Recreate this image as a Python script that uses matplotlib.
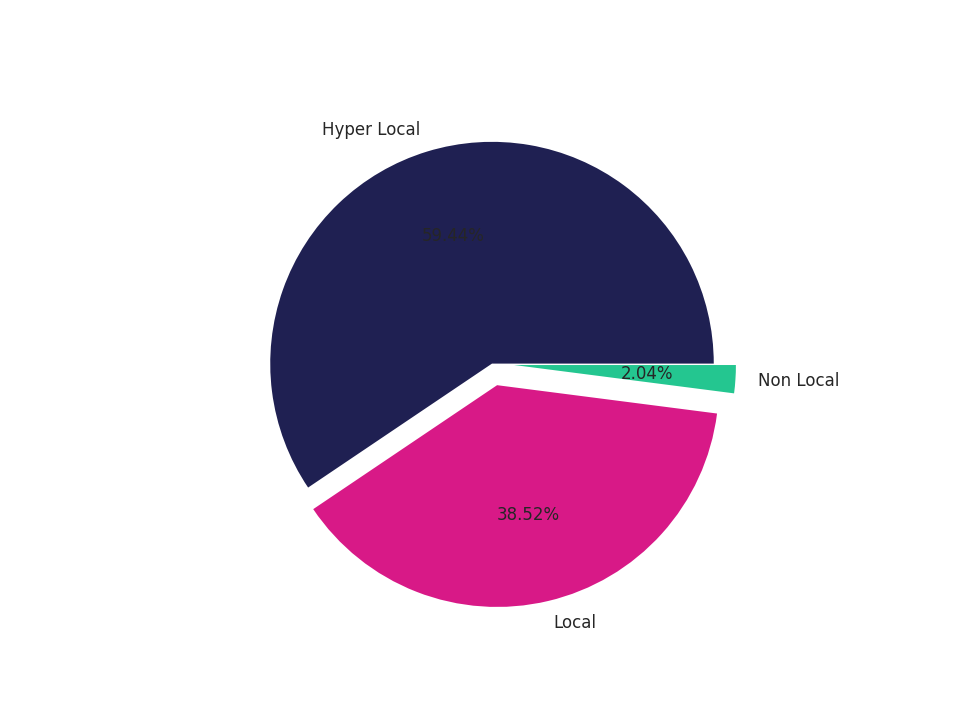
import matplotlib
matplotlib.use("Agg")
import matplotlib.pyplot as plt

labels = ["Hyper Local", "Local", "Non Local"]
values = [59.44, 38.52, 2.04]
colors = ["#1f2052", "#d81987", "#24c690"]
explode = [0, 0.1, 0.1]

plt.rcParams['font.family'] = ['DejaVu Sans']
fig, ax = plt.subplots(figsize=(9.6, 7.2), dpi=100)
wedges, texts, autotexts = ax.pie(values, labels=labels, colors=colors, explode=explode,
                                  autopct='%1.2f%%', startangle=0)
for t in texts + autotexts:
    t.set_fontsize(12)
    t.set_color("#262626")
ax.set_aspect('equal')
fig.savefig("out.png", dpi=100)
